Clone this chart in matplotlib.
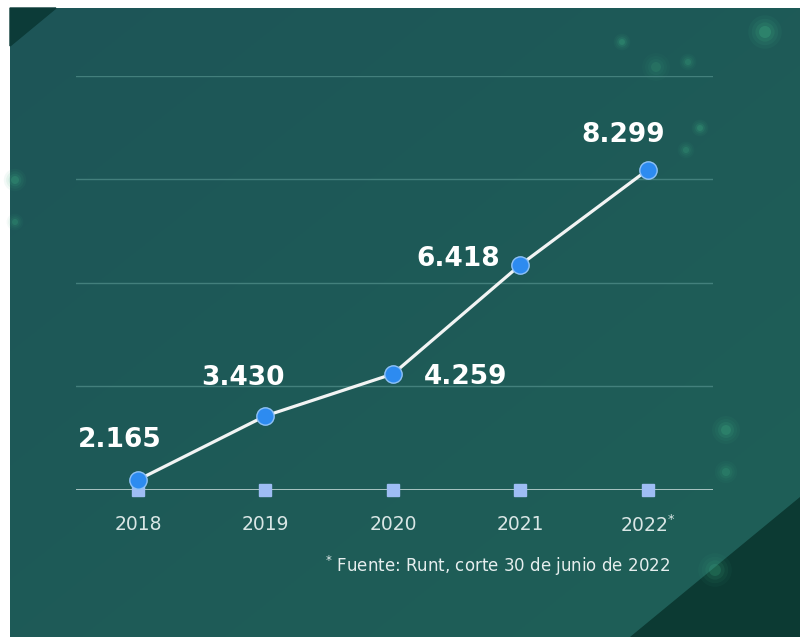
import numpy as np
import matplotlib
matplotlib.use("Agg")
import matplotlib.pyplot as plt
from matplotlib.patches import Polygon

years = ["2018", "2019", "2020", "2021", "2022*"]
values = [2.165, 3.430, 4.259, 6.418, 8.299]
value_labels = ["2.165", "3.430", "4.259", "6.418", "8.299"]
footnote = "Fuente: Runt, corte 30 de junio de 2022"

W, H = 800, 637
fig = plt.figure(figsize=(W / 100, H / 100), dpi=100, facecolor="white")

# background axes in pixel coords
bg = fig.add_axes([0, 0, 1, 1], zorder=0)
bg.set_xlim(0, W)
bg.set_ylim(H, 0)
bg.axis("off")
grad = np.linspace(0, 1, 256)
gx, gy = np.meshgrid(grad, grad)
t = (gx + gy) / 2
c1 = np.array([0x1d, 0x55, 0x57]) / 255
c2 = np.array([0x1f, 0x60, 0x58]) / 255
img = c1[None, None, :] * (1 - t[..., None]) + c2[None, None, :] * t[..., None]
bg.imshow(img, extent=[10, W, H, 8], aspect="auto", zorder=0)
bg.add_patch(Polygon([[10, 8], [56, 8], [10, 46]], closed=True, color="#0c3b38", zorder=1))
bg.add_patch(Polygon([[800, 497], [800, 637], [630, 637]], closed=True, color="#0c3a33", zorder=1))
for (x, y, r, a) in [(765, 32, 6, 0.3), (622, 42, 3, 0.25), (656, 67, 5, 0.15), (688, 62, 3, 0.2),
                     (700, 128, 3, 0.25), (715, 570, 6, 0.2), (726, 430, 5, 0.25), (15, 180, 4, 0.25),
                     (15, 222, 3, 0.2), (726, 472, 4, 0.2), (686, 150, 3, 0.2)]:
    for k in range(4):
        bg.add_patch(plt.Circle((x, y), r * (1 + k * 0.6), color="#3fae84", alpha=a / (k + 1), lw=0, zorder=1))

# main axes
left, right, top, bottom = 76, 713, 76, 490
ax = fig.add_axes([left / W, 1 - bottom / H, (right - left) / W, (bottom - top) / H], zorder=2)
ax.patch.set_alpha(0)
for s in ax.spines.values():
    s.set_visible(False)

x = np.arange(len(years))
ylo, yhi = 1.964, 10.15
ax.set_xlim(-0.486, 4.51)
ax.set_ylim(ylo, yhi)

ax.set_yticks(np.linspace(ylo, yhi, 5)[1:])
ax.yaxis.grid(True, color="#4d8a86", lw=1.0, alpha=0.8)
ax.set_yticklabels([])
ax.tick_params(axis="y", length=0)
ax.axhline(ylo, color="#d3e3e2", lw=1.8, zorder=3)

ax.plot(x, values, color="#f2f4f4", lw=2.3, zorder=4)
ax.plot(x, [ylo] * len(x), ls="none", marker="s", ms=8.5, color="#9ebdf4", zorder=4, clip_on=False)
ax.plot(x, values, ls="none", marker="o", ms=12.5, mfc="#2d8bf0", mec="#8fc2f7", mew=1.0, zorder=5)

offsets = [(-13, 29), (-16, 27), (52, -2), (-45, 4), (-18, 25)]
for xi, v, lab, off in zip(x, values, value_labels, offsets):
    ax.annotate(lab, (xi, v), xytext=off, textcoords="offset points", ha="center", va="center",
                fontsize=19, fontweight="bold", color="white", family="DejaVu Sans", zorder=6)

ticklabels = [y.replace("*", "$^{*}$") for y in years]
ax.set_xticks(x)
ax.set_xticklabels(ticklabels, fontsize=13.5, color="#d9e6e5")
ax.tick_params(axis="x", length=0, pad=18)

fig.text(670 / W, 1 - 566 / H, "$^{*}$ " + footnote, ha="right", va="center",
         fontsize=12, color="#e6eeee")

fig.savefig("out.png", dpi=100, facecolor="white")
